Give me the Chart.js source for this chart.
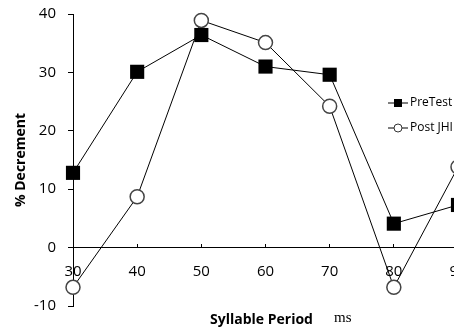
<!DOCTYPE html>
<html>
<head>
<meta charset="utf-8">
<script src="https://cdn.jsdelivr.net/npm/chart.js@4/dist/chart.umd.min.js"></script>
<style>
body { margin: 0; background: #fff; overflow: hidden; }
#outer { width: 454px; height: 335px; overflow: hidden; }
canvas { display: block; }
</style>
</head>
<body>
<div id="outer"><canvas id="graph1" width="470" height="335"></canvas></div>
<script>
// values
var periods = [30, 40, 50, 60, 70, 80, 90];
var preTest = [12.8, 30.1, 36.4, 31.0, 29.6, 4.1, 7.3];
var postJHI = [-6.8, 8.7, 38.9, 35.1, 24.2, -6.8, 13.8];
var seriesNames = ["PreTest", "Post JHI"];
var yTitle = "% Decrement";
var xTitle = "Syllable Period";
var xUnit = "ms";

function points(vals) {
    return periods.map(function (p, i) { return { x: p, y: vals[i] }; });
}

// legend and x title drawn over the plot, like the original
const overlay = {
    id: "overlay",
    afterDraw(chart) {
        let ctx = chart.ctx;
        ctx.save();
        let rows = [103, 128];
        chart.data.datasets.forEach(function (ds, i) {
            let y = rows[i];
            ctx.strokeStyle = "#000";
            ctx.lineWidth = 1;
            ctx.beginPath();
            ctx.moveTo(388, y);
            ctx.lineTo(408, y);
            ctx.stroke();
            if (ds.pointStyle == "rect") {
                ctx.fillStyle = "#000";
                ctx.fillRect(394, y - 4, 8, 8);
            } else {
                ctx.fillStyle = "#fff";
                ctx.beginPath();
                ctx.arc(398, y, 4, 0, Math.PI * 2);
                ctx.fill();
                ctx.strokeStyle = "#333";
                ctx.stroke();
            }
            ctx.fillStyle = "#000";
            ctx.font = "12px 'Open Sans'";
            ctx.textBaseline = "middle";
            ctx.textAlign = "left";
            ctx.fillText(ds.label, 410, y);
        });
        ctx.textBaseline = "middle";
        ctx.textAlign = "left";
        ctx.font = "bold 14px 'Open Sans'";
        ctx.fillText(xTitle, 210, 320);
        ctx.font = "15px 'Liberation Serif'";
        ctx.fillText(xUnit, 334, 318);
        ctx.restore();
    }
};

let graph1 = document.getElementById("graph1").getContext("2d");
const myChart = new Chart(graph1, {
    type: "line",
    data: {
        datasets: [{
            label: seriesNames[0],
            data: points(preTest),
            borderColor: "#000",
            borderWidth: 1,
            pointStyle: "rect",
            pointRadius: 10,
            pointBackgroundColor: "#000",
            pointBorderColor: "#000",
            pointBorderWidth: 0,
            clip: false
        }, {
            label: seriesNames[1],
            data: points(postJHI),
            borderColor: "#000",
            borderWidth: 1,
            pointStyle: "circle",
            pointRadius: 7,
            pointBackgroundColor: "#fff",
            pointBorderColor: "#444",
            pointBorderWidth: 1.5,
            clip: false
        }]
    },
    options: {
        responsive: false,
        animation: false,
        layout: { autoPadding: false, padding: { left: 0, top: 14, right: 12, bottom: 29 } },
        plugins: {
            legend: { display: false },
            tooltip: { enabled: false }
        },
        scales: {
            x: {
                type: "linear",
                position: { y: 0 },
                min: 30,
                max: 90,
                ticks: {
                    stepSize: 10,
                    maxRotation: 0,
                    color: "#000",
                    padding: 19,
                    font: { family: "'Open Sans'", size: 15 }
                },
                grid: {
                    drawOnChartArea: false,
                    tickLength: -4,
                    color: "#000"
                },
                border: { color: "#000", width: 1 },
                afterFit: function (scale) { scale.paddingLeft = 0; scale.paddingRight = 0; }
            },
            y: {
                min: -10,
                max: 40,
                ticks: {
                    stepSize: 10,
                    color: "#000",
                    padding: 12,
                    font: { family: "'Open Sans'", size: 15 }
                },
                grid: {
                    drawOnChartArea: false,
                    tickLength: 5,
                    color: "#000"
                },
                border: { color: "#000", width: 1 },
                title: {
                    display: true,
                    text: yTitle,
                    color: "#000",
                    padding: { top: 13, bottom: 0 },
                    font: { family: "'Open Sans'", size: 14, weight: "bold" }
                },
                afterFit: function (scale) { scale.width = 73; scale.paddingTop = 0; scale.paddingBottom = 0; }
            }
        }
    },
    plugins: [overlay]
});
</script>
</body>
</html>
